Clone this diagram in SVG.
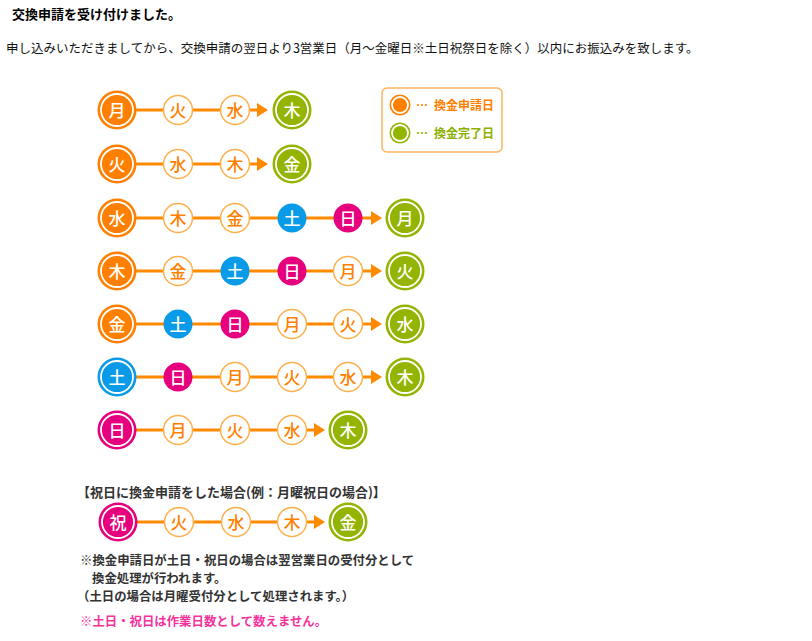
<svg xmlns="http://www.w3.org/2000/svg" width="812" height="641" viewBox="0 0 812 641">
<style>
  text { font-family: "Noto Sans CJK JP", "Noto Sans", sans-serif; }
  .c { text-anchor: middle; font-size: 17px; font-weight: 500; }
  .w { fill: #ffffff; }
  .o { fill: #ff8000; }
  .og { fill: #ff8000; }
  .gr { fill: #93b400; }
  .bl { fill: #0a9be8; }
  .pk { fill: #e6007e; }
  .ring { fill: none; stroke: #ffffff; stroke-width: 1.8; }
  .sm { fill: #ffffff; stroke: #ffb04d; stroke-width: 1.5; }
  .ln { stroke: #ff8a00; stroke-width: 3; fill: none; marker-end: url(#ah); }
  .hd { font-size: 13px; font-weight: bold; fill: #000; }
  .body { font-size: 12.5px; fill: #111; }
  .note { font-size: 12.4px; font-weight: bold; fill: #333; }
  .pnote { font-size: 12.4px; font-weight: bold; fill: #f5339c; }
  .lg { font-size: 12px; font-weight: bold; }
</style>
<defs>
  <marker id="ah" markerUnits="userSpaceOnUse" markerWidth="12" markerHeight="16" refX="1" refY="7" orient="auto">
    <path d="M0,0 L11,7 L0,14 z" fill="#ff8a00"/>
  </marker>
</defs>

<text class="hd" x="12" y="19">交換申請を受け付けました。</text>
<text class="body" x="6" y="53">申し込みいただきましてから、交換申請の翌日より3営業日（月～金曜日※土日祝祭日を除く）以内にお振込みを致します。</text>

<g id="connectors">
  <line class="ln" x1="136" y1="110" x2="258" y2="110"/>
  <line class="ln" x1="136" y1="164" x2="258" y2="164"/>
  <line class="ln" x1="136" y1="218" x2="372" y2="218"/>
  <line class="ln" x1="136" y1="271" x2="372" y2="271"/>
  <line class="ln" x1="136" y1="324" x2="372" y2="324"/>
  <line class="ln" x1="136" y1="377" x2="372" y2="377"/>
  <line class="ln" x1="136" y1="430" x2="315" y2="430"/>
  <line class="ln" x1="137" y1="522" x2="315" y2="522"/>
</g>

<!-- Row 1 -->
<g id="r1-mon"><circle class="og" cx="117" cy="110" r="19.5"/><circle class="ring" cx="117" cy="110" r="16"/><text class="c w" x="117" y="116.5">月</text></g>
<g id="r1-tue"><circle class="sm" cx="178" cy="110" r="14.5"/><text class="c o" x="178" y="116.5">火</text></g>
<g id="r1-wed"><circle class="sm" cx="235" cy="110" r="14.5"/><text class="c o" x="235" y="116.5">水</text></g>
<g id="r1-thu"><circle class="gr" cx="292" cy="110" r="19.5"/><circle class="ring" cx="292" cy="110" r="16"/><text class="c w" x="292" y="116.5">木</text></g>

<!-- Row 2 -->
<g id="r2-tue"><circle class="og" cx="117" cy="164" r="19.5"/><circle class="ring" cx="117" cy="164" r="16"/><text class="c w" x="117" y="170.5">火</text></g>
<g id="r2-wed"><circle class="sm" cx="178" cy="164" r="14.5"/><text class="c o" x="178" y="170.5">水</text></g>
<g id="r2-thu"><circle class="sm" cx="235" cy="164" r="14.5"/><text class="c o" x="235" y="170.5">木</text></g>
<g id="r2-fri"><circle class="gr" cx="292" cy="164" r="19.5"/><circle class="ring" cx="292" cy="164" r="16"/><text class="c w" x="292" y="170.5">金</text></g>

<!-- Row 3 -->
<g id="r3-wed"><circle class="og" cx="117" cy="218" r="19.5"/><circle class="ring" cx="117" cy="218" r="16"/><text class="c w" x="117" y="224.5">水</text></g>
<g id="r3-thu"><circle class="sm" cx="178" cy="218" r="14.5"/><text class="c o" x="178" y="224.5">木</text></g>
<g id="r3-fri"><circle class="sm" cx="235" cy="218" r="14.5"/><text class="c o" x="235" y="224.5">金</text></g>
<g id="r3-sat"><circle class="bl" cx="292" cy="218" r="14.5"/><text class="c w" x="292" y="224.5">土</text></g>
<g id="r3-sun"><circle class="pk" cx="348" cy="218" r="14.5"/><text class="c w" x="348" y="224.5">日</text></g>
<g id="r3-mon"><circle class="gr" cx="405" cy="218" r="19.5"/><circle class="ring" cx="405" cy="218" r="16"/><text class="c w" x="405" y="224.5">月</text></g>

<!-- Row 4 -->
<g id="r4-thu"><circle class="og" cx="117" cy="271" r="19.5"/><circle class="ring" cx="117" cy="271" r="16"/><text class="c w" x="117" y="277.5">木</text></g>
<g id="r4-fri"><circle class="sm" cx="178" cy="271" r="14.5"/><text class="c o" x="178" y="277.5">金</text></g>
<g id="r4-sat"><circle class="bl" cx="235" cy="271" r="14.5"/><text class="c w" x="235" y="277.5">土</text></g>
<g id="r4-sun"><circle class="pk" cx="292" cy="271" r="14.5"/><text class="c w" x="292" y="277.5">日</text></g>
<g id="r4-mon"><circle class="sm" cx="348" cy="271" r="14.5"/><text class="c o" x="348" y="277.5">月</text></g>
<g id="r4-tue"><circle class="gr" cx="405" cy="271" r="19.5"/><circle class="ring" cx="405" cy="271" r="16"/><text class="c w" x="405" y="277.5">火</text></g>

<!-- Row 5 -->
<g id="r5-fri"><circle class="og" cx="117" cy="324" r="19.5"/><circle class="ring" cx="117" cy="324" r="16"/><text class="c w" x="117" y="330.5">金</text></g>
<g id="r5-sat"><circle class="bl" cx="178" cy="324" r="14.5"/><text class="c w" x="178" y="330.5">土</text></g>
<g id="r5-sun"><circle class="pk" cx="235" cy="324" r="14.5"/><text class="c w" x="235" y="330.5">日</text></g>
<g id="r5-mon"><circle class="sm" cx="292" cy="324" r="14.5"/><text class="c o" x="292" y="330.5">月</text></g>
<g id="r5-tue"><circle class="sm" cx="348" cy="324" r="14.5"/><text class="c o" x="348" y="330.5">火</text></g>
<g id="r5-wed"><circle class="gr" cx="405" cy="324" r="19.5"/><circle class="ring" cx="405" cy="324" r="16"/><text class="c w" x="405" y="330.5">水</text></g>

<!-- Row 6 -->
<g id="r6-sat"><circle class="bl" cx="117" cy="377" r="19.5"/><circle class="ring" cx="117" cy="377" r="16"/><text class="c w" x="117" y="383.5">土</text></g>
<g id="r6-sun"><circle class="pk" cx="178" cy="377" r="14.5"/><text class="c w" x="178" y="383.5">日</text></g>
<g id="r6-mon"><circle class="sm" cx="235" cy="377" r="14.5"/><text class="c o" x="235" y="383.5">月</text></g>
<g id="r6-tue"><circle class="sm" cx="292" cy="377" r="14.5"/><text class="c o" x="292" y="383.5">火</text></g>
<g id="r6-wed"><circle class="sm" cx="348" cy="377" r="14.5"/><text class="c o" x="348" y="383.5">水</text></g>
<g id="r6-thu"><circle class="gr" cx="405" cy="377" r="19.5"/><circle class="ring" cx="405" cy="377" r="16"/><text class="c w" x="405" y="383.5">木</text></g>

<!-- Row 7 -->
<g id="r7-sun"><circle class="pk" cx="117" cy="430" r="19.5"/><circle class="ring" cx="117" cy="430" r="16"/><text class="c w" x="117" y="436.5">日</text></g>
<g id="r7-mon"><circle class="sm" cx="178" cy="430" r="14.5"/><text class="c o" x="178" y="436.5">月</text></g>
<g id="r7-tue"><circle class="sm" cx="235" cy="430" r="14.5"/><text class="c o" x="235" y="436.5">火</text></g>
<g id="r7-wed"><circle class="sm" cx="292" cy="430" r="14.5"/><text class="c o" x="292" y="436.5">水</text></g>
<g id="r7-thu"><circle class="gr" cx="348" cy="430" r="19.5"/><circle class="ring" cx="348" cy="430" r="16"/><text class="c w" x="348" y="436.5">木</text></g>

<!-- Legend -->
<g id="legend">
  <rect x="382" y="88" width="120" height="64" rx="5" fill="#ffffff" stroke="#ffb35c" stroke-width="1.5"/>
  <circle class="og" cx="400" cy="105" r="10.5"/><circle class="ring" cx="400" cy="105" r="8" stroke-width="1.5"/>
  <circle class="gr" cx="400" cy="133" r="10.5"/><circle class="ring" cx="400" cy="133" r="8" stroke-width="1.5"/>
  <text class="lg" x="416" y="109.5" fill="#ff8000">…<tspan dx="6">換金申請日</tspan></text>
  <text class="lg" x="416" y="137.5" fill="#8db000">…<tspan dx="6">換金完了日</tspan></text>
</g>

<!-- Holiday example -->
<text class="note" x="77" y="497" style="font-size:13px">【祝日に換金申請をした場合(例：月曜祝日の場合)】</text>
<g id="h-hol"><circle class="pk" cx="118" cy="522" r="19.5"/><circle class="ring" cx="118" cy="522" r="16"/><text class="c w" x="118" y="528.5">祝</text></g>
<g id="h-tue"><circle class="sm" cx="179" cy="522" r="14.5"/><text class="c o" x="179" y="528.5">火</text></g>
<g id="h-wed"><circle class="sm" cx="236" cy="522" r="14.5"/><text class="c o" x="236" y="528.5">水</text></g>
<g id="h-thu"><circle class="sm" cx="292" cy="522" r="14.5"/><text class="c o" x="292" y="528.5">木</text></g>
<g id="h-fri"><circle class="gr" cx="348" cy="522" r="19.5"/><circle class="ring" cx="348" cy="522" r="16"/><text class="c w" x="348" y="528.5">金</text></g>

<text class="note" x="80" y="565">※換金申請日が土日・祝日の場合は翌営業日の受付分として</text>
<text class="note" x="92" y="583">換金処理が行われます。</text>
<text class="note" x="77" y="601">（土日の場合は月曜受付分として処理されます。）</text>
<text class="pnote" x="80" y="626">※土日・祝日は作業日数として数えません。</text>
</svg>
